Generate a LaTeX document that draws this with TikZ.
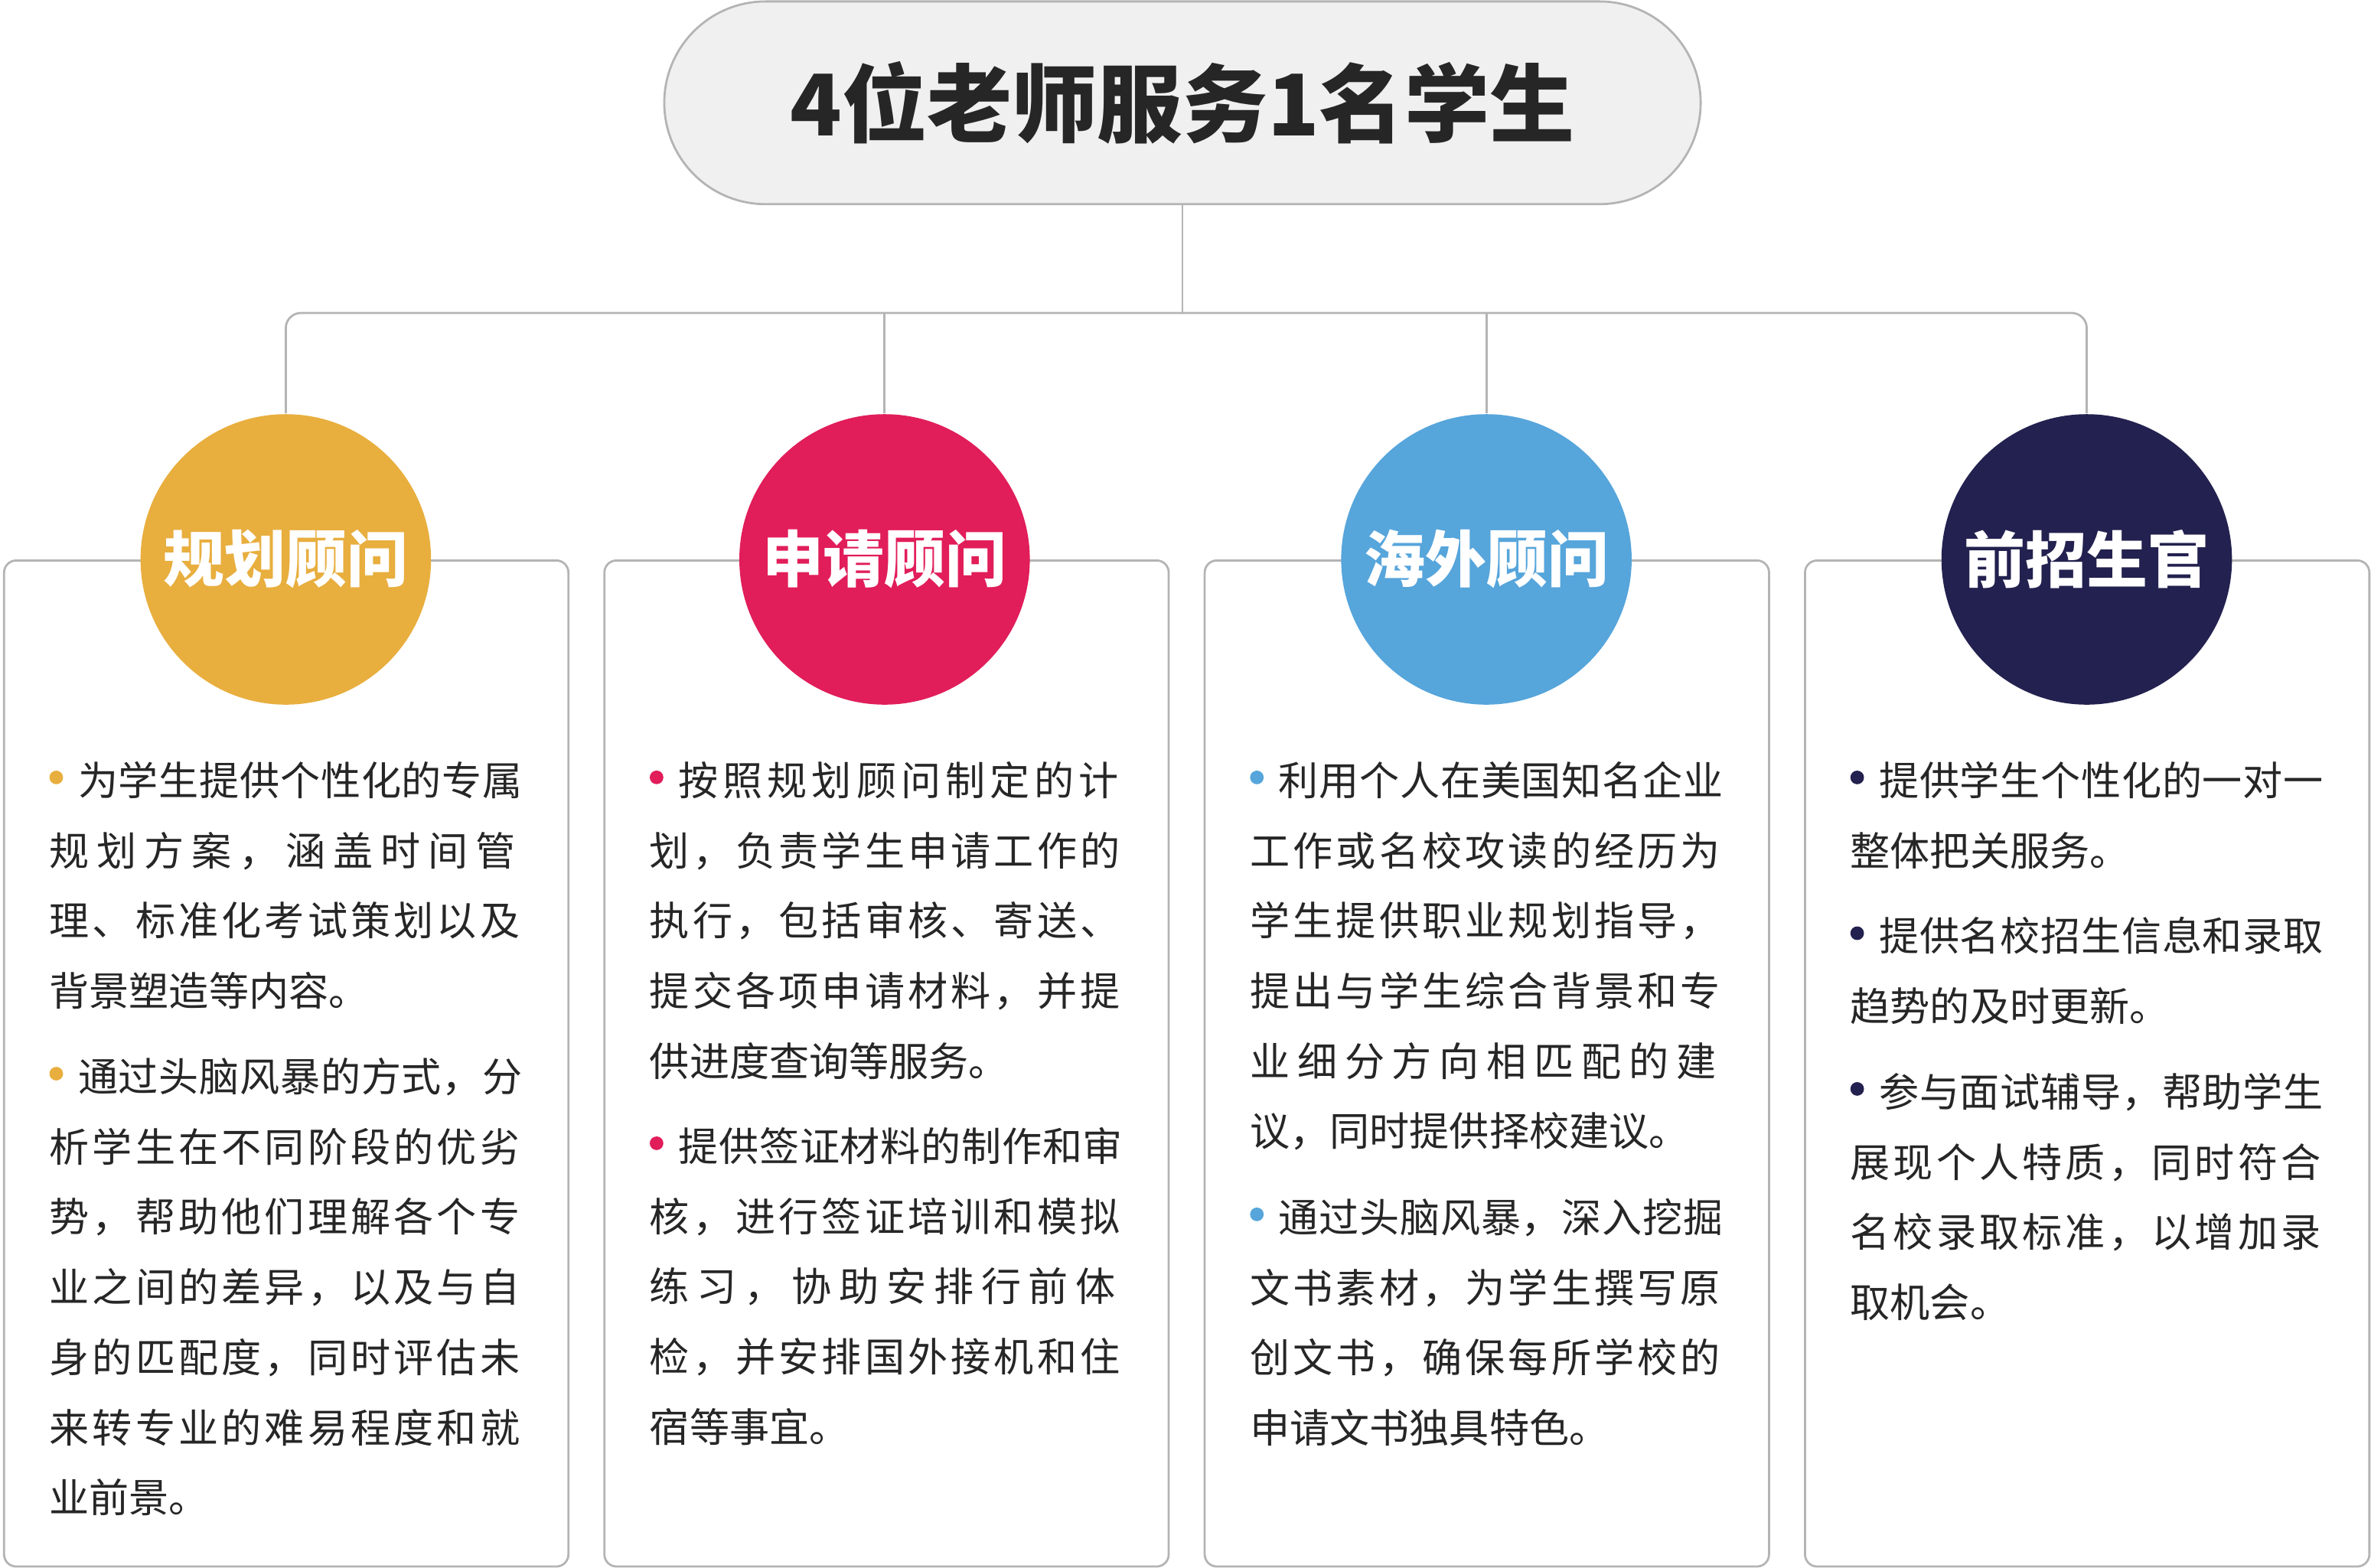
\documentclass[tikz,border=0pt]{standalone}
\usepackage{fontspec}
\setmainfont{Noto Sans CJK SC}
\usetikzlibrary{positioning}
\definecolor{cplan}{HTML}{E8AE3E}
\definecolor{capply}{HTML}{E11D5A}
\definecolor{cabroad}{HTML}{56A5DB}
\definecolor{cadmit}{HTML}{23214F}
\definecolor{lgray}{HTML}{B4B4B4}
\def\sprd#1{\ifx#1\relax\else#1\expandafter\sprdx\fi}
\def\sprdx#1{\ifx#1\relax\else\hfil#1\expandafter\sprdx\fi}
\newcommand{\jl}[1]{\makebox[3.13cm][l]{\sprd#1\relax}\\}
\newcommand{\jb}[2]{\makebox[3.13cm][l]{\raisebox{0.28em}{\tikz\fill[#1] (0,0) circle (0.045cm);}\hspace{0.1cm}\sprd#2\relax}\\}
\newcommand{\bul}[1]{\raisebox{0.28em}{\tikz\fill[#1] (0,0) circle (0.045cm);}\hspace{0.1cm}}
\tikzset{
  box/.style={draw=lgray,line width=0.4pt,rounded corners=0.08cm,minimum width=3.73cm,minimum height=6.65cm,anchor=north west,inner sep=0pt},
  role/.style={circle,minimum size=1.92cm,inner sep=0pt,text=white,font=\fontsize{11.5pt}{14pt}\selectfont\bfseries},
  para/.style={anchor=north west,inner sep=0pt,align=left,text width=3.2cm,text=black!85,font=\fontsize{7.5pt}{13.2pt}\selectfont},
  link/.style={draw=lgray,line width=0.4pt}
}
\begin{document}
\begin{tikzpicture}[x=0.01cm,y=-0.01cm]
	\useasboundingbox (0,0) rectangle (1568,1037);
	\node[draw=lgray,fill=black!6,rounded corners=0.67cm,minimum width=6.85cm,minimum height=1.34cm,font=\fontsize{16pt}{18pt}\selectfont\bfseries,text=black!85] (title) at (782,68) {4位老师服务1名学生};
	\coordinate (hub) at (782,207);
	% boxes
	\node[box] (b1) at (2,370) {};
	\node[box] (b2) at (399,370) {};
	\node[box] (b3) at (796,370) {};
	\node[box] (b4) at (1193,370) {};
	% circles
	\node[role,fill=cplan] (r1) at (189,370) {规划顾问};
	\node[role,fill=capply] (r2) at (585,370) {申请顾问};
	\node[role,fill=cabroad] (r3) at (983,370) {海外顾问};
	\node[role,fill=cadmit] (r4) at (1380,370) {前招生官};
	% connectors
	\draw[link] (title.south) -- (hub);
	\draw[link,rounded corners=0.1cm] (r1.north) |- (hub) -| (r4.north);
	\draw[link] (r2.north) -- (r2.north |- hub);
	\draw[link] (r3.north) -- (r3.north |- hub);
	% texts
	\node[para] (p11) at (32,503) {\jb{cplan}{为学生提供个性化的专属}\jl{规划方案，涵盖时间管}\jl{理、标准化考试策划以及}背景塑造等内容。};
	\node[para] (p12) at (32,699) {\jb{cplan}{通过头脑风暴的方式，分}\jl{析学生在不同阶段的优劣}\jl{势，帮助他们理解各个专}\jl{业之间的差异，以及与自}\jl{身的匹配度，同时评估未}\jl{来转专业的难易程度和就}业前景。};
	\node[para] (p21) at (429,503) {\jb{capply}{按照规划顾问制定的计}\jl{划，负责学生申请工作的}\jl{执行，包括审核、寄送、}\jl{提交各项申请材料，并提}供进度查询等服务。};
	\node[para] (p22) at (429,745) {\jb{capply}{提供签证材料的制作和审}\jl{核，进行签证培训和模拟}\jl{练习，协助安排行前体}\jl{检，并安排国外接机和住}宿等事宜。};
	\node[para] (p31) at (826,503) {\jb{cabroad}{利用个人在美国知名企业}\jl{工作或名校攻读的经历为}\jl{学生提供职业规划指导，}\jl{提出与学生综合背景和专}\jl{业细分方向相匹配的建}议，同时提供择校建议。};
	\node[para] (p32) at (826,792) {\jb{cabroad}{通过头脑风暴，深入挖掘}\jl{文书素材，为学生撰写原}\jl{创文书，确保每所学校的}申请文书独具特色。};
	\node[para] (p41) at (1223,503) {\jb{cadmit}{提供学生个性化的一对一}整体把关服务。};
	\node[para] (p42) at (1223,606) {\jb{cadmit}{提供名校招生信息和录取}趋势的及时更新。};
	\node[para] (p43) at (1223,709) {\jb{cadmit}{参与面试辅导，帮助学生}\jl{展现个人特质，同时符合}\jl{名校录取标准，以增加录}取机会。};
\end{tikzpicture}
\end{document}
